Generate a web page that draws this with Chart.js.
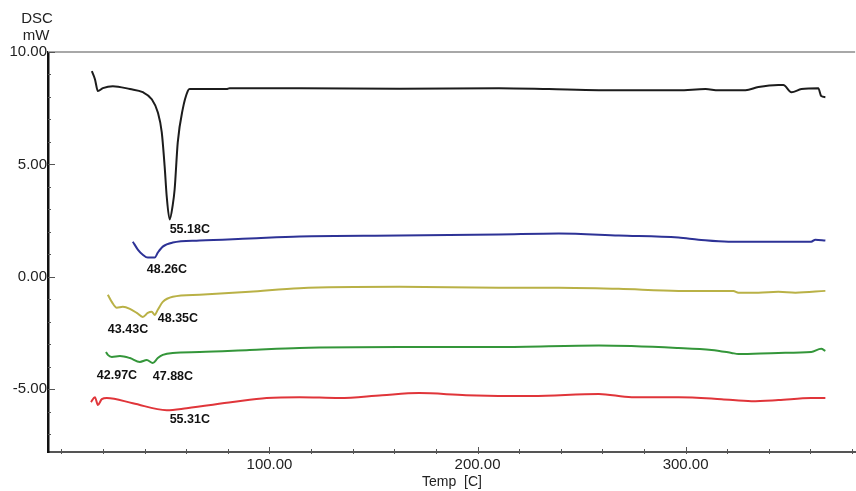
<!DOCTYPE html>
<html lang="en">
<head>
<meta charset="UTF-8">
<title>DSC curves</title>
<script src="https://cdn.jsdelivr.net/npm/chart.js"></script>
<style>
    html, body { margin: 0; padding: 0; background: #fff; overflow: hidden; }
    #wrap { width: 856px; height: 491px; }
</style>
</head>
<body>
<div id="wrap"><canvas id="dscChart"></canvas></div>
<script>
// Temperatures (C) and heat flow (mW), one pair of arrays per curve
const blackT = [14.6, 16.1, 17.5, 19.9, 24.7, 32.9, 39.1, 43.4, 46.3, 48.2, 49.6, 50.6, 52.0, 53.5, 54.4, 55.9, 58.3, 60.7, 61.6, 79.4, 80.8, 114.4, 162.4, 210.3, 234.3, 258.3, 296.6, 309.6, 315.8, 328.8, 335.0, 344.6, 347.0, 350.9, 355.7, 363.8, 365.2, 367.2];
const blackY = [9.15, 8.79, 8.26, 8.39, 8.48, 8.35, 8.21, 7.90, 7.32, 6.43, 4.91, 3.57, 2.55, 3.20, 3.88, 5.98, 7.46, 8.26, 8.35, 8.35, 8.39, 8.39, 8.37, 8.39, 8.35, 8.30, 8.30, 8.35, 8.30, 8.30, 8.44, 8.53, 8.53, 8.21, 8.35, 8.39, 8.04, 7.99];

const blueT = [34.3, 36.7, 39.1, 41.5, 44.8, 46.3, 48.7, 53.5, 66.4, 90.4, 114.4, 162.4, 210.3, 239.1, 267.9, 296.6, 306.2, 320.6, 360.4, 362.4, 367.2];
const blueY = [1.56, 1.21, 0.98, 0.85, 0.85, 1.07, 1.34, 1.52, 1.61, 1.70, 1.79, 1.83, 1.88, 1.92, 1.83, 1.74, 1.65, 1.56, 1.56, 1.65, 1.61];

const yellowT = [22.3, 24.2, 26.6, 29.5, 32.9, 36.2, 39.1, 41.5, 43.4, 44.8, 46.3, 48.7, 53.5, 66.4, 90.4, 114.4, 162.4, 210.3, 239.1, 267.9, 296.6, 323.0, 325.4, 335.0, 344.6, 352.8, 367.2];
const yellowY = [-0.80, -1.12, -1.38, -1.34, -1.43, -1.61, -1.79, -1.61, -1.56, -1.70, -1.47, -1.12, -0.89, -0.80, -0.67, -0.51, -0.45, -0.49, -0.49, -0.54, -0.63, -0.63, -0.71, -0.71, -0.67, -0.71, -0.63];

const greenT = [21.4, 22.3, 24.2, 28.1, 32.9, 37.7, 41.0, 43.9, 46.3, 48.7, 53.5, 66.4, 90.4, 114.4, 162.4, 210.3, 258.3, 296.6, 312.5, 322.1, 325.4, 344.6, 360.4, 365.2, 367.2];
const greenY = [-3.35, -3.48, -3.57, -3.53, -3.62, -3.79, -3.71, -3.84, -3.62, -3.48, -3.39, -3.35, -3.26, -3.17, -3.13, -3.13, -3.06, -3.17, -3.26, -3.39, -3.44, -3.39, -3.35, -3.21, -3.30];

const redT = [14.2, 16.1, 17.5, 19.4, 21.8, 34.3, 50.6, 60.2, 82.3, 98.6, 114.4, 133.6, 154.2, 171.9, 194.5, 226.1, 258.3, 274.1, 296.6, 317.3, 331.7, 344.6, 360.4, 367.2];
const redY = [-5.58, -5.36, -5.71, -5.45, -5.40, -5.63, -5.94, -5.85, -5.58, -5.40, -5.36, -5.40, -5.27, -5.18, -5.27, -5.31, -5.22, -5.36, -5.36, -5.45, -5.54, -5.49, -5.40, -5.40];

// Peak annotations: text and the point (T, mW) where each label starts
const peakLabels = ['55.18C', '48.26C', '48.35C', '43.43C', '42.97C', '47.88C', '55.31C'];
const peakLabelT = [52.0, 41.0, 46.3, 22.3, 17.0, 43.9, 52.0];
const peakLabelY = [2.1, 0.31, -1.88, -2.37, -4.42, -4.46, -6.34];

const xMajorTicks = [100, 200, 300];
const yMajorTicks = [-5, 0, 5, 10];

function toPoints(xs, ys) {
    return xs.map((x, i) => ({ x: x, y: ys[i] }));
}

function curve(xs, ys, color) {
    return {
        data: toPoints(xs, ys),
        borderColor: color,
        borderWidth: 2,
        pointRadius: 0,
        cubicInterpolationMode: 'monotone',
        fill: false
    };
}

// Top frame line, inner tick marks, axis titles and peak labels
const decorations = {
    id: 'decorations',
    afterDraw(chart) {
        const ctx = chart.ctx;
        const area = chart.chartArea;
        const xs = chart.scales.x;
        const ys = chart.scales.y;
        ctx.save();

        ctx.strokeStyle = '#a8a8a8';
        ctx.lineWidth = 2;
        ctx.beginPath();
        ctx.moveTo(area.left, area.top);
        ctx.lineTo(area.right, area.top);
        ctx.stroke();

        // tick marks point into the plot, like the instrument software
        ctx.strokeStyle = '#555';
        ctx.lineWidth = 1;
        ctx.beginPath();
        ys.ticks.forEach(t => {
            const py = Math.round(ys.getPixelForValue(t.value)) + 0.5;
            const len = yMajorTicks.includes(Math.round(t.value)) ? 7 : 3;
            ctx.moveTo(area.left, py);
            ctx.lineTo(area.left + len, py);
        });
        xs.ticks.forEach(t => {
            const px = Math.round(xs.getPixelForValue(t.value)) + 0.5;
            const len = xMajorTicks.includes(Math.round(t.value)) ? 5 : 3;
            ctx.moveTo(px, area.bottom - len);
            ctx.lineTo(px, area.bottom + 2);
        });
        ctx.stroke();

        ctx.fillStyle = '#222';
        ctx.font = '15px "Liberation Sans", Arial, sans-serif';
        ctx.textAlign = 'center';
        ctx.textBaseline = 'middle';
        ctx.fillText('DSC', 37, 19);
        ctx.fillText('mW', 36, 36);
        ctx.font = '14px "Liberation Sans", Arial, sans-serif';
        ctx.fillText('Temp  [C]', 452, 482);

        ctx.fillStyle = '#111';
        ctx.font = 'bold 12.5px "Liberation Sans", Arial, sans-serif';
        ctx.textAlign = 'left';
        peakLabels.forEach((label, i) => {
            ctx.fillText(label, xs.getPixelForValue(peakLabelT[i]), ys.getPixelForValue(peakLabelY[i]));
        });
        ctx.restore();
    }
};

new Chart(document.getElementById('dscChart'), {
    type: 'line',
    data: {
        datasets: [
            curve(blackT, blackY, '#1c1c1c'),
            curve(blueT, blueY, '#2d3296'),
            curve(yellowT, yellowY, '#b9b146'),
            curve(greenT, greenY, '#34963a'),
            curve(redT, redY, '#e0353a')
        ]
    },
    options: {
        responsive: true,
        maintainAspectRatio: false,
        animation: false,
        layout: { padding: { top: 52, right: 0, left: 0, bottom: 0 } },
        plugins: {
            legend: { display: false },
            tooltip: { enabled: false }
        },
        scales: {
            x: {
                type: 'linear',
                min: -6.47,
                max: 381.5,
                afterFit: scale => { scale.height = 39; },
                border: { display: true, color: '#555', width: 2 },
                grid: { drawOnChartArea: false, drawTicks: false },
                ticks: {
                    stepSize: 20,
                    includeBounds: false,
                    maxRotation: 0,
                    autoSkip: false,
                    padding: 4,
                    color: '#222',
                    font: { family: '"Liberation Sans", Arial, sans-serif', size: 15 },
                    callback: v => xMajorTicks.includes(Math.round(v)) ? v.toFixed(2) : ''
                }
            },
            y: {
                type: 'linear',
                min: -7.8,
                max: 10,
                afterFit: scale => { scale.width = 48; },
                border: { display: true, color: '#111', width: 2.5 },
                grid: { drawOnChartArea: false, drawTicks: false },
                ticks: {
                    stepSize: 1,
                    includeBounds: false,
                    autoSkip: false,
                    padding: 1,
                    color: '#222',
                    font: { family: '"Liberation Sans", Arial, sans-serif', size: 15 },
                    callback: v => yMajorTicks.includes(Math.round(v)) ? v.toFixed(2) : ''
                }
            }
        }
    },
    plugins: [decorations]
});
</script>
</body>
</html>
